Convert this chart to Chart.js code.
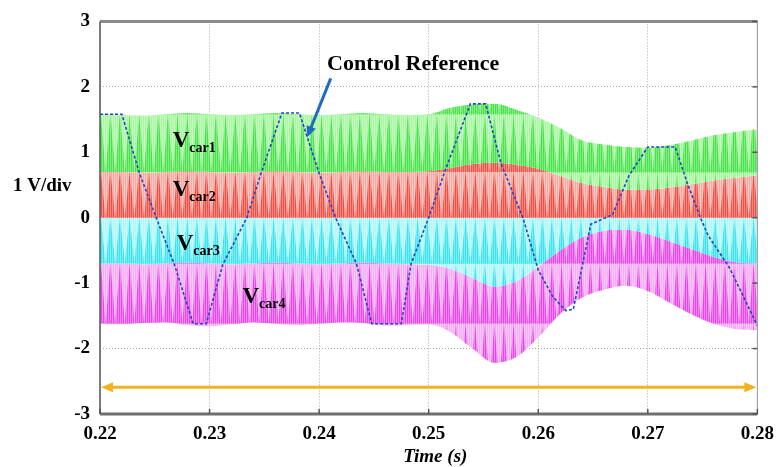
<!DOCTYPE html>
<html lang="en">
<head>
    <meta charset="UTF-8">
    <title>Carrier signals and control reference</title>
    <script src="https://cdn.jsdelivr.net/npm/chart.js"></script>
    <style>
        body {
            margin: 0;
            padding: 0;
            background: #fff;
        }
        #wrap {
            width: 783px;
            height: 467px;
        }
    </style>
</head>
<body>
    <div id="wrap">
        <canvas id="carrierChart" width="783" height="467"></canvas>
    </div>

    <script>
        // Sample instants for the carrier band edges (s)
        const bandTime = [0.220, 0.222, 0.224, 0.226, 0.228, 0.230, 0.232, 0.234, 0.236, 0.238,
                          0.240, 0.242, 0.244, 0.246, 0.248, 0.250, 0.252, 0.254, 0.256, 0.258,
                          0.260, 0.262, 0.264, 0.266, 0.268, 0.270, 0.272, 0.274, 0.276, 0.278, 0.280];

        // Peak of Vcar1
        const car1Max = [1.58, 1.57, 1.56, 1.58, 1.60, 1.58, 1.57, 1.58, 1.60, 1.58,
                         1.57, 1.58, 1.60, 1.58, 1.57, 1.58, 1.68, 1.73, 1.74, 1.65,
                         1.53, 1.37, 1.18, 1.12, 1.08, 1.07, 1.11, 1.18, 1.26, 1.31, 1.35];
        // Vcar1 valley / Vcar2 peak
        const car12Edge = [0.70, 0.70, 0.69, 0.70, 0.71, 0.70, 0.69, 0.70, 0.71, 0.70,
                           0.69, 0.70, 0.71, 0.70, 0.70, 0.71, 0.76, 0.82, 0.84, 0.81,
                           0.75, 0.64, 0.53, 0.47, 0.43, 0.43, 0.46, 0.51, 0.57, 0.61, 0.65];
        // Vcar2 valley / Vcar3 peak
        const car23Edge = [0, 0, 0, 0, 0, 0, 0, 0, 0, 0,
                           0, 0, 0, 0, 0, 0, 0, 0, 0, 0,
                           0, 0, 0, 0, 0, 0, 0, 0, 0, 0, 0];
        // Vcar3 valley / Vcar4 peak
        const car34Edge = [-0.70, -0.70, -0.71, -0.70, -0.69, -0.70, -0.71, -0.70, -0.69, -0.70,
                           -0.71, -0.70, -0.69, -0.70, -0.71, -0.72, -0.78, -0.92, -1.05, -0.97,
                           -0.75, -0.50, -0.30, -0.20, -0.18, -0.25, -0.36, -0.48, -0.60, -0.68, -0.70];
        // Valley of Vcar4
        const car4Min = [-1.62, -1.63, -1.61, -1.60, -1.64, -1.66, -1.63, -1.60, -1.62, -1.64,
                         -1.62, -1.60, -1.61, -1.65, -1.64, -1.63, -1.75, -2.00, -2.22, -2.13,
                         -1.83, -1.47, -1.22, -1.10, -1.04, -1.12, -1.30, -1.48, -1.62, -1.70, -1.72];

        // Control reference corners
        const refTime = [0.2200, 0.2220, 0.2236, 0.2252, 0.2268, 0.2285, 0.2297, 0.2312, 0.2334, 0.2347,
                         0.2366, 0.2382, 0.2400, 0.2415, 0.2434, 0.2448, 0.2475, 0.2484, 0.2500, 0.2515,
                         0.2538, 0.2552, 0.2566, 0.2586, 0.2600, 0.2613, 0.2625, 0.2632, 0.2648, 0.2668,
                         0.2683, 0.2700, 0.2725, 0.2736, 0.2748, 0.2755, 0.2775, 0.2790, 0.2800];
        const refValue = [1.58, 1.58, 0.68, -0.03, -0.72, -1.62, -1.62, -0.72, 0.00, 0.68,
                          1.60, 1.60, 0.68, 0.00, -0.70, -1.62, -1.62, -0.70, 0.00, 0.72,
                          1.74, 1.74, 0.83, 0.00, -0.80, -1.20, -1.42, -1.40, -0.10, 0.05,
                          0.65, 1.08, 1.08, 0.53, 0.00, -0.27, -0.78, -1.30, -1.65];

        const xTickValues = [0.22, 0.23, 0.24, 0.25, 0.26, 0.27, 0.28];
        const xTickLabels = ['0.22', '0.23', '0.24', '0.25', '0.26', '0.27', '0.28'];
        const yTickValues = [-3, -2, -1, 0, 1, 2, 3];
        const yTickLabels = ['-3', '-2', '-1', '0', '1', '2', '3'];

        const carrierNames = ['car1', 'car2', 'car3', 'car4'];
        const rangeArrowLevel = -2.59;

        const SERIF = '"Liberation Serif", "Times New Roman", serif';

        // light / dark shades of each carrier band
        const bandColors = [
            { light: '#a9f6a3', dark: '#4ae44a' },
            { light: '#f6aca5', dark: '#ef5146' },
            { light: '#b0f7fa', dark: '#3de4ec' },
            { light: '#f4aef4', dark: '#e64ae6' }
        ];

        const edges = [car1Max, car12Edge, car23Edge, car34Edge, car4Min];

        function toPoints(xs, ys) {
            return xs.map((x, i) => ({ x: x, y: ys[i] }));
        }

        // hatched zig-zag texture that stands in for the high frequency carrier
        function carrierPattern(col, height, offsetY) {
            const cycles = 5;
            const w = 48;
            const h = Math.max(4, Math.round(height));
            const c = document.createElement('canvas');
            c.width = w;
            c.height = h;
            const g = c.getContext('2d');
            g.fillStyle = col.light;
            g.fillRect(0, 0, w, h);
            g.fillStyle = col.dark;
            const p = w / cycles;
            for (let i = 0; i < cycles; i++) {
                const x0 = i * p;
                g.beginPath();
                g.moveTo(x0, h);
                g.lineTo(x0 + p / 2, 0);
                g.lineTo(x0 + p, h);
                g.closePath();
                g.fill();
            }
            g.fillStyle = 'rgba(255,255,255,0.32)';
            for (let x = 0; x < w; x += 2) g.fillRect(x, 0, 1, h);
            const pat = g.createPattern(c, 'repeat');
            if (pat.setTransform) pat.setTransform(new DOMMatrix([1, 0, 0, 1, 0, offsetY]));
            return pat;
        }

        function bandFill(i) {
            return function (ctx) {
                const y = ctx.chart.scales && ctx.chart.scales.y;
                if (!y) return bandColors[i].dark;
                const top = y.getPixelForValue(edges[i][0]);
                const bot = y.getPixelForValue(edges[i + 1][0]);
                if (!isFinite(top) || !isFinite(bot) || bot - top < 4) return bandColors[i].dark;
                return carrierPattern(bandColors[i], bot - top, top);
            };
        }

        function edgeDataset(values, fill, bg) {
            return {
                data: toPoints(bandTime, values),
                borderWidth: 0,
                borderColor: 'rgba(0,0,0,0)',
                pointRadius: 0,
                cubicInterpolationMode: 'monotone',
                fill: fill,
                backgroundColor: bg,
                order: 1
            };
        }

        function arrow(ctx, x1, y1, x2, y2, len, half) {
            const a = Math.atan2(y2 - y1, x2 - x1);
            ctx.beginPath();
            ctx.moveTo(x1, y1);
            ctx.lineTo(x2 - Math.cos(a) * len * 0.7, y2 - Math.sin(a) * len * 0.7);
            ctx.stroke();
            ctx.beginPath();
            ctx.moveTo(x2, y2);
            ctx.lineTo(x2 - Math.cos(a) * len - Math.sin(a) * half, y2 - Math.sin(a) * len + Math.cos(a) * half);
            ctx.lineTo(x2 - Math.cos(a) * len + Math.sin(a) * half, y2 - Math.sin(a) * len - Math.cos(a) * half);
            ctx.closePath();
            ctx.fill();
        }

        function carLabel(ctx, name, px, py) {
            ctx.font = 'bold 23px ' + SERIF;
            ctx.fillText('V', px, py);
            const w = ctx.measureText('V').width;
            ctx.font = 'bold 14px ' + SERIF;
            ctx.fillText(name, px + w, py + 5);
        }

        // frame, inner ticks, annotations
        const decorations = {
            id: 'decorations',
            afterDraw(chart) {
                const ctx = chart.ctx;
                const area = chart.chartArea;
                const xs = chart.scales.x;
                const ys = chart.scales.y;
                ctx.save();

                // frame
                ctx.lineCap = 'butt';
                ctx.strokeStyle = '#8a8a8a';
                ctx.lineWidth = 3;
                ctx.beginPath();
                ctx.moveTo(area.left, area.top);
                ctx.lineTo(area.right, area.top);
                ctx.stroke();
                ctx.strokeStyle = '#6f6f6f';
                ctx.beginPath();
                ctx.moveTo(area.left, area.bottom);
                ctx.lineTo(area.right, area.bottom);
                ctx.stroke();
                ctx.lineWidth = 1.5;
                ctx.strokeStyle = '#555';
                ctx.beginPath();
                ctx.moveTo(area.left, area.top);
                ctx.lineTo(area.left, area.bottom);
                ctx.stroke();
                ctx.lineWidth = 1;
                ctx.strokeStyle = '#9a9a9a';
                ctx.beginPath();
                ctx.moveTo(area.right, area.top);
                ctx.lineTo(area.right, area.bottom);
                ctx.stroke();

                // short inner ticks
                ctx.strokeStyle = '#555';
                ctx.lineWidth = 1.5;
                xTickValues.forEach(v => {
                    const px = xs.getPixelForValue(v);
                    ctx.beginPath();
                    ctx.moveTo(px, area.bottom);
                    ctx.lineTo(px, area.bottom - 5);
                    ctx.stroke();
                });
                yTickValues.forEach(v => {
                    const py = ys.getPixelForValue(v);
                    ctx.beginPath();
                    ctx.moveTo(area.right, py);
                    ctx.lineTo(area.right - 5, py);
                    ctx.stroke();
                });

                // time span arrow
                const ay = ys.getPixelForValue(rangeArrowLevel);
                const ax1 = xs.getPixelForValue(xTickValues[0]) + 1;
                const ax2 = xs.getPixelForValue(xTickValues[xTickValues.length - 1]) - 1;
                ctx.strokeStyle = '#f3b21c';
                ctx.fillStyle = '#f3b21c';
                ctx.lineWidth = 3;
                const mid = (ax1 + ax2) / 2;
                arrow(ctx, mid, ay, ax2, ay, 12, 5);
                arrow(ctx, mid, ay, ax1, ay, 12, 5);

                // pointer to the control reference
                ctx.strokeStyle = '#1f6cbd';
                ctx.fillStyle = '#1f6cbd';
                ctx.lineWidth = 3;
                arrow(ctx, xs.getPixelForValue(0.24106), ys.getPixelForValue(2.13),
                      xs.getPixelForValue(0.23891), ys.getPixelForValue(1.23), 11, 5);

                // text
                ctx.fillStyle = '#000';
                ctx.textAlign = 'left';
                ctx.textBaseline = 'alphabetic';
                ctx.font = 'bold 22px ' + SERIF;
                ctx.fillText('Control Reference', xs.getPixelForValue(0.24073), ys.getPixelForValue(2.256));

                carLabel(ctx, carrierNames[0], xs.getPixelForValue(0.22664), ys.getPixelForValue(1.083));
                carLabel(ctx, carrierNames[1], xs.getPixelForValue(0.22664), ys.getPixelForValue(0.331));
                carLabel(ctx, carrierNames[2], xs.getPixelForValue(0.22700), ys.getPixelForValue(-0.496));
                carLabel(ctx, carrierNames[3], xs.getPixelForValue(0.23300), ys.getPixelForValue(-1.308));

                ctx.font = 'bold 19px ' + SERIF;
                ctx.textBaseline = 'middle';
                ctx.fillText('1 V/div', 13, ys.getPixelForValue(0.48));

                ctx.font = 'italic bold 19px ' + SERIF;
                ctx.textAlign = 'center';
                ctx.fillText('Time (s)', xs.getPixelForValue(0.2506), area.bottom + 43);

                ctx.restore();
            }
        };

        new Chart(document.getElementById('carrierChart'), {
            type: 'line',
            data: {
                datasets: [
                    edgeDataset(car1Max, '+1', bandFill(0)),
                    edgeDataset(car12Edge, '+1', bandFill(1)),
                    edgeDataset(car23Edge, '+1', bandFill(2)),
                    edgeDataset(car34Edge, '+1', bandFill(3)),
                    edgeDataset(car4Min, false, 'rgba(0,0,0,0)'),
                    {
                        label: 'Control Reference',
                        data: toPoints(refTime, refValue),
                        borderColor: '#1f46c8',
                        borderWidth: 1.6,
                        borderDash: [3, 2],
                        pointRadius: 0,
                        tension: 0,
                        fill: false,
                        order: 0
                    }
                ]
            },
            options: {
                responsive: false,
                animation: false,
                layout: { padding: { top: 15, right: 22, bottom: 0, left: 0 } },
                plugins: {
                    legend: { display: false },
                    tooltip: { enabled: false }
                },
                scales: {
                    x: {
                        type: 'linear',
                        min: 0.22,
                        max: 0.28,
                        z: 1,
                        afterBuildTicks: s => { s.ticks = xTickValues.map(v => ({ value: v })); },
                        afterFit: s => { s.height = 53; },
                        grid: { color: 'rgba(140,140,140,0.75)', lineWidth: 1, drawTicks: false },
                        border: { display: false, dash: [1, 2] },
                        ticks: {
                            padding: 9,
                            color: '#000',
                            font: { family: SERIF, size: 19, weight: 'bold' },
                            maxRotation: 0,
                            callback: (v, i) => xTickLabels[i]
                        }
                    },
                    y: {
                        min: -3,
                        max: 3,
                        z: 1,
                        afterBuildTicks: s => { s.ticks = yTickValues.map(v => ({ value: v })); },
                        afterFit: s => { s.width = 100; },
                        grid: { color: 'rgba(140,140,140,0.75)', lineWidth: 1, drawTicks: false },
                        border: { display: false, dash: [1, 2] },
                        ticks: {
                            padding: 10,
                            color: '#000',
                            font: { family: SERIF, size: 19, weight: 'bold' },
                            callback: (v, i) => yTickLabels[i]
                        }
                    }
                }
            },
            plugins: [decorations]
        });
    </script>
</body>
</html>
